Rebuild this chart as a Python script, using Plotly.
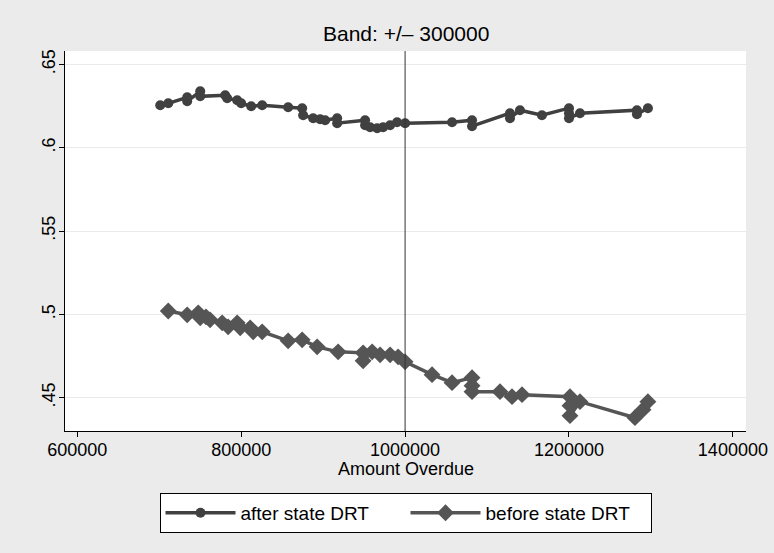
import plotly.graph_objects as go

# after state DRT (circles)
after_x = [701200, 711000, 734100, 734100, 750000, 750000, 780500, 782900, 795100, 800000,
           812200, 825600, 857300, 874400, 875600, 887800, 896300, 902400, 917100, 917100,
           951200, 951200, 957300, 965900, 973200, 981700, 990200, 1000000, 1057300, 1081700,
           1081700, 1128000, 1128000, 1140200, 1167000, 1200000, 1200000, 1200000, 1213400,
           1282900, 1282900, 1296300]
after_y = [.6255, .6266, .6302, .6278, .6338, .6308, .6314, .6296, .6284, .6266,
           .6249, .6255, .6243, .6237, .6195, .6177, .6171, .6165, .6177, .6147,
           .6165, .6135, .6123, .6117, .6123, .6135, .6153, .6147, .6153, .6165,
           .6129, .6207, .6177, .6225, .6195, .6237, .6207, .6177, .6207,
           .6225, .6201, .6237]

# before state DRT (diamonds)
before_x = [711000, 734100, 747600, 750000, 757000, 762000, 776800, 784100, 795100, 798800,
            811000, 814600, 825600, 857300, 874400, 892700, 918300, 948800, 948800, 959800,
            969500, 981700, 991500, 1000000, 1032900, 1057300, 1081700, 1081700, 1081700,
            1115800, 1130500, 1142700, 1201200, 1201200, 1201200, 1213400, 1280500, 1290300,
            1296300]
before_y = [.502, .4997, .5009, .4979, .4985, .4967, .4949, .4925, .4949, .4919,
            .4919, .4895, .4895, .4841, .4847, .4805, .4775, .4769, .4721, .4775,
            .4757, .4757, .4745, .4715, .4638, .4590, .4620, .4572, .4536,
            .4536, .4506, .4518, .4506, .4452, .4392, .4476, .4380, .4428,
            .4476]

y_tickvals = [0.45, 0.5, 0.55, 0.6, 0.65]
y_ticktext = [".45", ".5", ".55", ".6", ".65"]
x_tickvals = [600000, 800000, 1000000, 1200000, 1400000]
x_ticktext = ["600000", "800000", "1000000", "1200000", "1400000"]
cutoff = 1000000

FONT = "Liberation Sans, Arial, sans-serif"

fig = go.Figure()
fig.add_trace(go.Scatter(
    x=after_x, y=after_y, mode="lines+markers", name="after state DRT",
    line=dict(color="#404040", width=3.5),
    marker=dict(symbol="circle", size=10, color="#404040"),
))
fig.add_trace(go.Scatter(
    x=before_x, y=before_y, mode="lines+markers", name="before state DRT",
    line=dict(color="#555555", width=3.5),
    marker=dict(symbol="diamond", size=13, color="#555555"),
))

fig.add_shape(type="line", x0=cutoff, x1=cutoff, xref="x", yref="paper", y0=0, y1=1,
              line=dict(color="#333333", width=1))

fig.update_layout(
    width=774, height=553,
    paper_bgcolor="#ebebeb", plot_bgcolor="white",
    margin=dict(l=65, r=28, t=51, b=122, autoexpand=False),
    font=dict(family=FONT, size=18, color="black"),
    showlegend=True,
    legend=dict(orientation="h", x=0.5, xanchor="center", y=-0.163, yanchor="top",
                bgcolor="white", bordercolor="black", borderwidth=1,
                font=dict(size=19), itemwidth=70, entrywidthmode="pixels", entrywidth=160),
    annotations=[
        dict(text="Band: +/– 300000", xref="paper", yref="paper", x=0.5, y=1,
             yanchor="bottom", yshift=4, showarrow=False, font=dict(size=21)),
        dict(text="Amount Overdue", xref="paper", yref="paper", x=0.5, y=-0.100,
             yanchor="middle", showarrow=False, font=dict(size=18)),
    ],
)
fig.update_xaxes(range=[585000, 1416000], tickvals=x_tickvals, ticktext=x_ticktext,
                 showgrid=False, zeroline=False, showline=True, linecolor="black", linewidth=1,
                 ticks="outside", ticklen=5, tickcolor="black", automargin=False,
                 ticklabelstandoff=-3)
fig.update_yaxes(range=[0.430, 0.658], tickvals=y_tickvals, ticktext=y_ticktext,
                 tickangle=-90, showgrid=True, gridcolor="#eaeaea", gridwidth=1,
                 zeroline=False, showline=True, linecolor="black", linewidth=1,
                 ticks="outside", ticklen=5, tickcolor="black", automargin=False,
                 ticklabelstandoff=-3)

fig.write_html("out.html", config={"displayModeBar": False},
               post_script="document.body.style.margin='0';document.body.style.padding='0';")
